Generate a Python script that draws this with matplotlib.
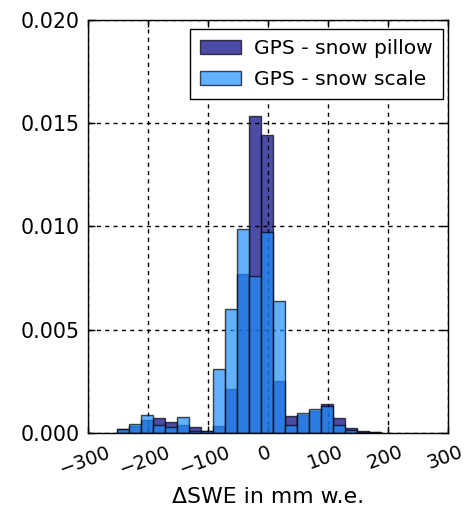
import numpy as np
import matplotlib
matplotlib.use('Agg')
import matplotlib.pyplot as plt
import matplotlib.transforms as mtransforms

# bin edges shared by both histograms (20 mm w.e. wide)
bin_left = [-251, -231, -211, -191, -171, -151, -131, -111, -91, -71, -51,
            -31, -11, 9, 29, 49, 69, 89, 109, 129, 149, 169]
bin_width = 20

# normalised densities per bin
pillow = [0.0002, 0.00035, 0.00065, 0.00071, 0.00052, 0.00039, 0.00031, 0.0001,
          0.00035, 0.00213, 0.0077, 0.01533, 0.01445, 0.00253, 0.00082, 0.00087,
          0.00106, 0.0014, 0.00074, 0.00026, 0.00011, 0.00006]
scale = [0.0002, 0.00042, 0.00089, 0.00037, 0.0003, 0.00077, 0.00011, 0.00012,
         0.0031, 0.0060, 0.00988, 0.0076, 0.00973, 0.00638, 0.00039, 0.00095,
         0.00115, 0.00132, 0.00039, 0.00015, 0.00006, 0.00003]

xticks = [-300, -200, -100, 0, 100, 200, 300]
yticks = [0.000, 0.005, 0.010, 0.015, 0.020]

fig = plt.figure(figsize=(4.67, 5.12), dpi=100)
ax = fig.add_axes([0.1884, 0.1543, 0.7709, 0.8067])

ax.bar(bin_left, pillow, width=bin_width, align='edge', color='navy',
       alpha=0.7, edgecolor='black', linewidth=1, label='GPS - snow pillow', zorder=2)
ax.bar(bin_left, scale, width=bin_width, align='edge', color='dodgerblue',
       alpha=0.7, edgecolor='black', linewidth=1, label='GPS - snow scale', zorder=3)

ax.set_xlim(-300, 300)
ax.set_ylim(0, 0.020)
ax.set_xticks(xticks)
ax.set_yticks(yticks)
ax.set_yticklabels(['%.3f' % v for v in yticks], fontsize=14.8)
ax.set_xticklabels(['\u2212%d' % -v if v < 0 else '%d' % v for v in xticks],
                   fontsize=14, rotation=20)
ax.tick_params(direction='in', top=True, right=True, length=5, width=1)
ax.tick_params(axis='y', pad=6)
ax.tick_params(axis='x', pad=7)

# nudge rotated x labels a little to the left so the last one stays inside
shift = mtransforms.ScaledTranslation(-3 / 100, 0, fig.dpi_scale_trans)
for lab in ax.get_xticklabels():
    lab.set_transform(lab.get_transform() + shift)

ax.grid(True, color='black', linestyle=(0, (3, 3)), linewidth=1)
ax.set_axisbelow(False)
for g in ax.get_xgridlines() + ax.get_ygridlines():
    g.set_zorder(4)

for s in ax.spines.values():
    s.set_linewidth(1)
    s.set_zorder(5)

ax.set_xlabel('\u0394SWE in mm w.e.', fontsize=15.8, labelpad=6)

leg = ax.legend(loc='upper right', bbox_to_anchor=(0.986, 0.978), borderaxespad=0,
                fontsize=14.6, fancybox=False, framealpha=1, edgecolor='black',
                handlelength=2.0, handletextpad=0.65, labelspacing=0.6, borderpad=0.5)
leg.get_frame().set_linewidth(1)
leg.set_zorder(6)

fig.savefig('out.png', dpi=100)
